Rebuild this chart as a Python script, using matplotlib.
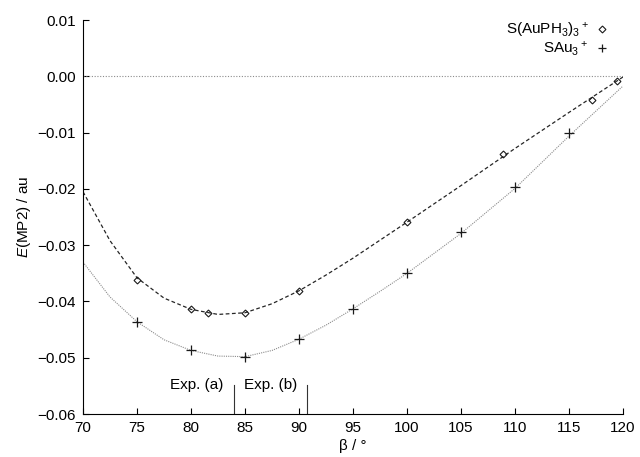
import matplotlib
matplotlib.use("Agg")
import matplotlib.pyplot as plt
from matplotlib.ticker import FuncFormatter
from matplotlib.lines import Line2D

plt.rcParams['font.family'] = ['Liberation Sans', 'DejaVu Sans']
plt.rcParams['mathtext.fontset'] = 'custom'
plt.rcParams['mathtext.rm'] = 'Liberation Sans'
plt.rcParams['mathtext.it'] = 'Liberation Sans:italic'

# computed points
beta_p = [75, 80, 81.6, 85, 90, 100, 108.9, 117.1, 119.4]
e_p = [-0.0361, -0.0414, -0.0421, -0.0420, -0.0381, -0.0259, -0.0138, -0.0042, -0.0008]
beta_s = [75, 80, 85, 90, 95, 100, 105, 110, 115]
e_s = [-0.0437, -0.0487, -0.0499, -0.0467, -0.0413, -0.0350, -0.0277, -0.0196, -0.0100]

# fitted curves
beta_fit = [70, 72.5, 75, 77.5, 80, 82.5, 85, 87.5, 90, 92.5, 95, 97.5, 100, 105, 110, 115, 120]
fit_p = [-0.0205, -0.0292, -0.0358, -0.0394, -0.0414, -0.0423, -0.0420, -0.0404, -0.0381,
         -0.0353, -0.0323, -0.0291, -0.0259, -0.0194, -0.0128, -0.0064, -0.0001]
fit_s = [-0.0330, -0.0392, -0.0436, -0.0468, -0.0487, -0.0497, -0.0498, -0.0487, -0.0467,
         -0.0442, -0.0413, -0.0382, -0.0350, -0.0279, -0.0199, -0.0106, -0.0017]

# experimental angles
exp_beta = [83.94, 90.77]
exp_lab = ["Exp. (a)", "Exp. (b)"]

fs = 11

fig = plt.figure(figsize=(6.4, 4.57), dpi=100)
ax = fig.add_axes([0.1297, 0.094, 0.8438, 0.862])

ax.plot([70, 120], [0, 0], color='0.55', lw=0.8, ls=(0, (1, 1.5)))
ax.plot(beta_fit, fit_p, color='0.15', lw=0.9, ls=(0, (3, 2)))
ax.plot(beta_fit, fit_s, color='0.55', lw=0.8, ls=(0, (1, 1)))
ax.plot(beta_p, e_p, ls='none', marker='D', ms=3.5, mfc='none', mec='0.1', mew=0.8)
ax.plot(beta_s, e_s, ls='none', marker='+', ms=6.5, mec='0.1', mew=0.9)

for b, t in zip(exp_beta, exp_lab):
    ax.plot([b, b], [-0.06, -0.0548], color='0.2', lw=0.8)
    ax.text(b - 0.9, -0.0549, t, ha='right', va='center', fontsize=fs)

ax.set_xlim(70, 120)
ax.set_ylim(-0.06, 0.01)
ax.set_xticks(range(70, 121, 5))
ax.set_yticks([0.01, 0.0, -0.01, -0.02, -0.03, -0.04, -0.05, -0.06])
ax.yaxis.set_major_formatter(FuncFormatter(lambda v, p: ('%.2f' % v).replace('-', '\u2212')))
ax.tick_params(direction='in', length=4, width=0.8, labelsize=fs, pad=5)
ax.spines['top'].set_visible(False)
ax.spines['right'].set_visible(False)
ax.set_xlabel('\u03b2 / \u00b0', fontsize=fs, labelpad=3)
ax.set_ylabel('$E$(MP2) / au', fontsize=fs, labelpad=3)

handles = [Line2D([], [], ls='none', marker='D', ms=3.5, mfc='none', mec='0.1', mew=0.8),
           Line2D([], [], ls='none', marker='+', ms=6, mec='0.1', mew=0.9)]
ax.legend(handles, ['S(AuPH$_3$)$_3$$^+$', 'SAu$_3$$^+$'], loc='upper right',
          bbox_to_anchor=(0.995, 1.03), markerfirst=False, frameon=False,
          fontsize=fs, handlelength=0.8, handletextpad=0.5, labelspacing=0.0,
          borderpad=0.3)

fig.savefig('out.png', dpi=100)
